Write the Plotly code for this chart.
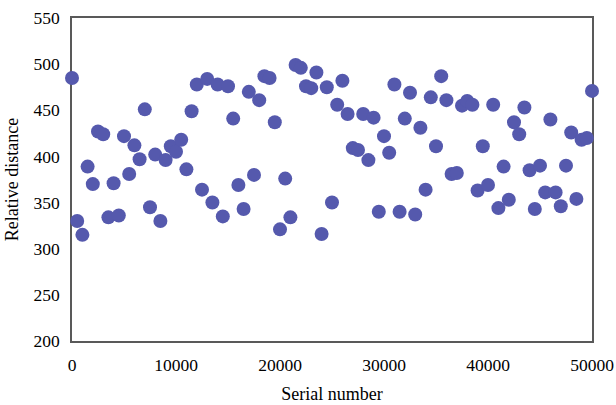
import plotly.graph_objects as go

serial = list(range(0, 50001, 500))
distance = [
    485, 330, 315, 389, 370, 427, 424, 334, 371, 336,
    422, 381, 412, 397, 451, 345, 402, 330, 396, 411,
    405, 418, 386, 449, 478, 364, 484, 350, 478, 335,
    476, 441, 369, 343, 470, 380, 461, 487, 485, 437,
    321, 376, 334, 499, 496, 476, 474, 491, 316, 475,
    350, 456, 482, 446, 409, 407, 446, 396, 442, 340,
    422, 404, 478, 340, 441, 469, 337, 431, 364, 464,
    411, 487, 461, 381, 382, 455, 460, 456, 363, 411,
    369, 456, 344, 389, 353, 437, 424, 453, 385, 343,
    390, 361, 440, 361, 346, 390, 426, 354, 418, 420,
    471,
]

x_ticks = [0, 10000, 20000, 30000, 40000, 50000]
y_ticks = [200, 250, 300, 350, 400, 450, 500, 550]

font_family = "Liberation Serif, Times New Roman, serif"
axis_color = "#595959"

fig = go.Figure(
    go.Scatter(
        x=serial,
        y=distance,
        mode="markers",
        marker=dict(size=14, color="#5559AD", line=dict(width=0)),
        cliponaxis=False,
        showlegend=False,
    )
)

fig.update_layout(
    width=616,
    height=405,
    margin=dict(l=72, r=24, t=18, b=64),
    paper_bgcolor="white",
    plot_bgcolor="rgba(0,0,0,0)",
    font=dict(family=font_family, size=17.5, color="#000000"),
)

common = dict(
    showgrid=False,
    zeroline=False,
    showline=True,
    linecolor=axis_color,
    linewidth=1.5,
    mirror=True,
    ticks="outside",
    ticklen=7,
    tickcolor="rgba(0,0,0,0)",
    tickfont=dict(family=font_family, size=17.5),
    layer="below traces",
    automargin=False,
)

fig.update_xaxes(
    range=[0, 50000],
    tickvals=x_ticks,
    ticktext=[str(v) for v in x_ticks],
    title=dict(text="Serial number", font=dict(family=font_family, size=18), standoff=14),
    **common,
)

fig.update_yaxes(
    range=[200, 550],
    tickvals=y_ticks,
    ticktext=[str(v) for v in y_ticks],
    title=dict(text="Relative distance", font=dict(family=font_family, size=18), standoff=10),
    **common,
)

fig.write_html(
    "out.html",
    config={"displayModeBar": False},
    post_script="document.body.style.margin='0';document.body.style.overflow='hidden';",
)
